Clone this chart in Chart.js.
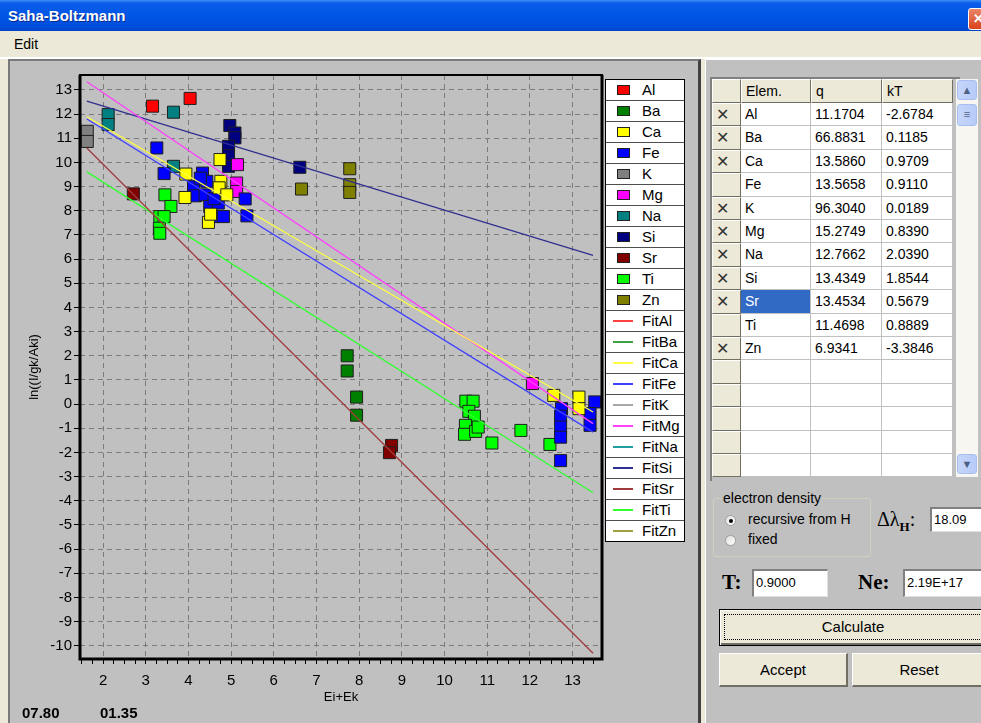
<!DOCTYPE html>
<html>
<head>
<meta charset="utf-8">
<script src="https://cdn.jsdelivr.net/npm/chart.js@4.4.0/dist/chart.umd.min.js"></script>
<style>
  body { margin:0; width:981px; height:723px; overflow:hidden; position:relative; background:#ece9d8; font-family:"Liberation Sans", Arial, sans-serif; }
  .abs { position:absolute; }
  #titlebar { left:0; top:0; width:981px; height:31px; background:linear-gradient(#3d8ff7 0%, #0a5de8 10%, #0056e6 50%, #004fdc 85%, #0044c8 100%); }
  #titlebar span { position:absolute; left:8px; top:7px; color:#fff; font-weight:bold; font-size:15px; text-shadow:1px 1px 0 #0a2a8a; }
  #closebtn { left:968px; top:8px; width:22px; height:20px; background:linear-gradient(#e98768,#d9421c); border:1px solid #fff; border-radius:3px; color:#fff; font-size:13px; font-weight:bold; line-height:20px; text-indent:4px; }
  #menubar { left:0; top:31px; width:981px; height:26px; background:#ece9d8; border-bottom:2px solid #fff; }
  #menubar span { position:absolute; left:14px; top:5px; font-size:14px; }
  #leftpanel { left:8px; top:59px; width:693px; height:664px; background:#c0c0c0; border-top:2px solid #7a7a7a; border-left:2px solid #7a7a7a; border-right:3px solid #404040; box-sizing:border-box; }
  #rightpanel { left:705px; top:59px; width:276px; height:664px; background:#c0c0c0; border-top:1px solid #fff; border-left:1px solid #fff; box-sizing:border-box; }
  #chartbox { left:10px; top:62px; width:690px; height:661px; }
  #legend { left:605px; top:79px; width:80px; border:1px solid #000; background:#fff; box-sizing:border-box; }
  .lrow { position:relative; height:20px; border-bottom:1px solid #505050; font-size:15px; }
  .lrow:last-child { border-bottom:none; }
  .lrow .mk { position:absolute; left:11px; top:5px; width:11px; height:8px; border:1px solid #222; }
  .lrow .ln { position:absolute; left:7px; top:9px; width:20px; height:2px; }
  .lrow .tx { position:absolute; left:36px; top:1px; }
  .foot { top:704px; font-size:15px; font-weight:bold; }
  #grid { left:710px; top:77px; width:248px; height:402px; border-top:2px solid #808080; border-left:2px solid #808080; background:#c0c0c0; }
  .cell { position:absolute; box-sizing:border-box; font-size:14px; padding-left:4px; white-space:nowrap; overflow:hidden; }
  .hdr { background:#ece9d8; border-top:1px solid #fff; border-left:1px solid #fff; border-right:1px solid #716f64; border-bottom:1px solid #716f64; }
  .dat { background:#fff; border-right:1px solid #c0c0c0; border-bottom:1px solid #c0c0c0; }
  #sbar { left:956px; top:79px; width:22px; height:398px; background:#f7f6f1; }
  .sbtn { position:absolute; left:1px; width:20px; height:20px; border-radius:3px; background:linear-gradient(90deg,#c6d6fc,#b7cbf8); border:1px solid #a8bef0; box-sizing:border-box; color:#4d6185; font-size:11px; text-align:center; line-height:18px; }
  #group { left:713px; top:498px; width:158px; height:59px; border:1px solid #d0d0bf; border-radius:3px; box-sizing:border-box; }
  #group .leg { position:absolute; left:8px; top:-9px; background:#c0c0c0; font-size:14px; padding:0 1px; }
  .radio { position:absolute; width:11px; height:11px; border-radius:50%; background:linear-gradient(135deg,#e0e0dc,#fff); border:1px solid #a0a0a0; box-sizing:border-box; }
  .lbl { position:absolute; font-size:14px; }
  .inp { position:absolute; background:#fff; border-top:2px solid #808080; border-left:2px solid #808080; border-bottom:1px solid #e0e0e0; border-right:1px solid #e0e0e0; box-sizing:border-box; font-size:13px; padding-left:2px; }
  .serif { position:absolute; font-family:"Liberation Serif", "DejaVu Serif", serif; font-weight:bold; font-size:21px; }
  .btn { position:absolute; background:#ece9d8; border-top:1px solid #fff; border-left:1px solid #fff; border-right:2px solid #716f64; border-bottom:2px solid #716f64; box-sizing:border-box; font-size:15px; text-align:center; }
</style>
</head>
<body>
<div id="titlebar" class="abs"><span>Saha-Boltzmann</span></div>
<div id="closebtn" class="abs">✕</div>
<div id="menubar" class="abs"><span>Edit</span></div>
<div id="leftpanel" class="abs"></div>
<div id="rightpanel" class="abs"></div>
<div id="chartbox" class="abs"><canvas id="sbChart"></canvas></div>
<div id="legend" class="abs"></div>
<div class="abs foot" style="left:22px;">07.80</div>
<div class="abs foot" style="left:100px;">01.35</div>

<div id="grid" class="abs"></div>
<div id="sbar" class="abs">
  <div class="sbtn" style="top:1px;">&#9650;</div>
  <div class="sbtn" style="top:25px;height:22px;">&#8801;</div>
  <div class="sbtn" style="top:375px;">&#9660;</div>
</div>

<div id="group" class="abs">
  <div class="leg">electron density</div>
</div>
<div class="radio" style="left:725px;top:515px;"><div style="position:absolute;left:3px;top:3px;width:4px;height:4px;border-radius:50%;background:#000;"></div></div>
<div class="lbl" style="left:748px;top:511px;">recursive from H</div>
<div class="radio" style="left:725px;top:535px;"></div>
<div class="lbl" style="left:748px;top:531px;">fixed</div>
<div class="abs" style="left:877px;top:508px;font-family:'Liberation Serif',serif;font-size:20px;">&Delta;&lambda;<sub style="font-weight:bold;font-size:13px;vertical-align:-5px;">H</sub>:</div>
<div class="inp" style="left:930px;top:507px;width:55px;height:25px;line-height:21px;">18.09</div>

<div class="serif" style="left:722px;top:570px;">T:</div>
<div class="inp" style="left:752px;top:569px;width:76px;height:28px;line-height:24px;">0.9000</div>
<div class="serif" style="left:858px;top:570px;">Ne:</div>
<div class="inp" style="left:903px;top:569px;width:82px;height:28px;line-height:24px;">2.19E+17</div>

<div class="btn" style="left:719px;top:609px;width:268px;height:37px;border:1px solid #000;box-shadow:inset 1px 1px 0 #fff, inset -2px -2px 0 #716f64;line-height:33px;">
  <div style="position:absolute;left:4px;top:4px;right:4px;bottom:5px;border:1px dotted #000;"></div>Calculate</div>
<div class="btn" style="left:719px;top:653px;width:129px;height:34px;line-height:31px;">Accept</div>
<div class="btn" style="left:852px;top:653px;width:135px;height:34px;line-height:31px;">Reset</div>

<script>
// ---- data ----
const elements = ["Al", "Ba", "Ca", "Fe", "K", "Mg", "Na", "Si", "Sr", "Ti", "Zn"];
const markerColors = ["#ff0000", "#008000", "#ffff00", "#0000ff", "#808080", "#ff00ff", "#008080", "#000080", "#800000", "#00ff00", "#808000"];
const fitColors = ["#ff4040", "#40a040", "#ffff40", "#4040ff", "#a8a8a8", "#ff40ff", "#20a0a0", "#303090", "#a03c3c", "#30ff30", "#a0a040"];

// E (Ei+Ek) and ln value for each element
const alPts = [[3.16, 12.33], [4.04, 12.65]];
const baPts = [[7.72, 2.0], [7.72, 1.37], [7.94, 0.29], [7.94, -0.46]];
const caPts = [[3.94, 9.52], [3.92, 8.55], [4.47, 7.52], [4.52, 7.86], [4.74, 10.12], [4.76, 9.22], [4.72, 8.95], [4.9, 8.66], [12.56, 0.36], [13.15, 0.29], [13.15, -0.19]];
const fePts = [[3.26, 10.6], [3.43, 9.54], [4.33, 9.56], [4.12, 9.0], [4.16, 8.62], [4.43, 9.22], [4.39, 8.66], [4.5, 8.18], [4.7, 8.32], [4.58, 7.76], [4.82, 7.76], [5.33, 8.49], [5.37, 7.79], [4.28, 9.35], [4.6, 8.5], [12.74, -0.19], [12.72, -0.5], [12.72, -0.95], [12.72, -1.37], [12.72, -2.34], [13.52, 0.09], [13.41, -0.39], [13.41, -0.88]];
const kPts = [[1.63, 11.29], [1.63, 10.87]];
const mgPts = [[5.15, 9.91], [5.13, 9.15], [5.13, 8.8], [12.06, 0.85]];
const naPts = [[2.12, 11.98], [2.12, 11.57], [3.65, 12.08], [3.65, 9.84]];
const siPts = [[4.97, 11.53], [5.09, 11.22], [5.09, 11.02], [4.94, 10.67], [4.94, 10.28], [4.94, 9.84], [6.61, 9.8]];
const srPts = [[2.71, 8.7], [8.76, -1.71], [8.71, -2.01]];
const tiPts = [[3.45, 8.66], [3.59, 8.18], [3.33, 7.76], [3.43, 7.76], [3.32, 7.28], [3.33, 7.07], [10.5, 0.12], [10.67, 0.12], [10.57, -0.3], [10.7, -0.5], [10.49, -0.88], [10.47, -1.25], [10.73, -1.13], [10.79, -0.95], [11.11, -1.61], [11.79, -1.09], [12.47, -1.67]];
const znPts = [[6.65, 8.9], [7.78, 9.74], [7.78, 9.08], [7.78, 8.76]];
const points = [alPts, baPts, caPts, fePts, kPts, mgPts, naPts, siPts, srPts, tiPts, znPts];

// fit lines: values at fitE ends (empty = not drawn)
const fitE = [1.62, 13.48];
const fitAl = [];
const fitBa = [];
const fitCa = [11.89, -0.33];
const fitFe = [11.8, -1.16];
const fitK = [];
const fitMg = [13.34, -0.81];
const fitNa = [];
const fitSi = [12.54, 6.15];
const fitSr = [10.6, -10.31];
const fitTi = [9.61, -3.67];
const fitZn = [];
const fits = [fitAl, fitBa, fitCa, fitFe, fitK, fitMg, fitNa, fitSi, fitSr, fitTi, fitZn];

const xRange = [1.46, 13.69];
const yRange = [-10.55, 13.62];

// table
const tblQ = ["11.1704", "66.8831", "13.5860", "13.5658", "96.3040", "15.2749", "12.7662", "13.4349", "13.4534", "11.4698", "6.9341"];
const tblKT = ["-2.6784", "0.1185", "0.9709", "0.9110", "0.0189", "0.8390", "2.0390", "1.8544", "0.5679", "0.8889", "-3.3846"];
const tblX = [1, 1, 1, 0, 1, 1, 1, 1, 1, 0, 1];
const tblHeads = ["", "Elem.", "q", "kT"];

// ---- chart ----
const FONT = "'Liberation Sans', Arial, sans-serif";
const isInt = v => Math.abs(v - Math.round(v)) < 1e-6;
const isQuarter = v => Math.abs(v * 4 - Math.round(v * 4)) < 1e-6;
const inX = v => v >= xRange[0] && v <= xRange[1];

const datasets = [];
elements.forEach((el, i) => {
  datasets.push({
    type: "scatter",
    label: el,
    data: points[i].map(p => ({ x: p[0], y: p[1] })),
    pointStyle: "rect",
    pointRadius: 8.5,
    pointHoverRadius: 8.5,
    pointBackgroundColor: markerColors[i],
    pointBorderColor: "#1e1e1e",
    pointBorderWidth: 1,
    order: 1,
  });
});
elements.forEach((el, i) => {
  datasets.push({
    type: "line",
    label: "Fit" + el,
    data: fits[i].map((v, j) => ({ x: fitE[j], y: v })),
    borderColor: fitColors[i],
    borderWidth: 1.3,
    pointRadius: 0,
    fill: false,
    order: 0,
  });
});

const framePlugin = {
  id: "frame",
  afterDraw(chart) {
    const { ctx, chartArea: a } = chart;
    ctx.save();
    ctx.strokeStyle = "#000";
    ctx.lineWidth = 2;
    ctx.strokeRect(a.left, a.top, a.right - a.left, a.bottom - a.top);
    ctx.lineWidth = 3;
    ctx.beginPath();
    ctx.moveTo(a.left, a.top);
    ctx.lineTo(a.left, a.bottom);
    ctx.lineTo(a.right, a.bottom);
    ctx.lineTo(a.right, a.top);
    ctx.stroke();
    ctx.restore();
  },
};

new Chart(document.getElementById("sbChart"), {
  type: "scatter",
  data: { datasets },
  options: {
    responsive: true,
    maintainAspectRatio: false,
    animation: false,
    layout: { padding: { top: 13, right: 98, bottom: 0, left: 0 } },
    plugins: { legend: { display: false }, tooltip: { enabled: false } },
    scales: {
      x: {
        type: "linear",
        min: xRange[0],
        max: xRange[1],
        afterFit: s => { s.height = 64; },
        ticks: {
          stepSize: 0.25,
          includeBounds: false,
          autoSkip: false,
          maxRotation: 0,
          color: "#000",
          padding: 8,
          font: { family: FONT, size: 15 },
          callback: v => (isInt(v) ? v : ""),
        },
        grid: {
          color: c => (isInt(c.tick.value) && inX(c.tick.value) ? "#7c7c7c" : "transparent"),
          tickColor: c => (isQuarter(c.tick.value) && inX(c.tick.value) ? "#000" : "transparent"),
          tickLength: 5,
          lineWidth: 1,
        },
        border: { display: false, dash: [5, 4] },
        title: { display: true, text: "Ei+Ek", color: "#000", font: { family: FONT, size: 13 }, padding: { top: 0, bottom: 18 } },
      },
      y: {
        min: yRange[0],
        max: yRange[1],
        afterFit: s => { s.width = 70; },
        ticks: {
          stepSize: 1,
          includeBounds: false,
          color: "#000",
          padding: 2,
          font: { family: FONT, size: 15 },
          callback: v => (isInt(v) ? v : ""),
        },
        grid: {
          color: c => (isInt(c.tick.value) ? "#7c7c7c" : "transparent"),
          tickColor: c => (isInt(c.tick.value) ? "#000" : "transparent"),
          tickLength: 6,
          lineWidth: 1,
        },
        border: { display: false, dash: [5, 4] },
        title: { display: true, text: "ln((I/gk/Aki)", color: "#000", font: { family: FONT, size: 13 }, padding: { top: 17, bottom: 0 } },
      },
    },
  },
  plugins: [framePlugin],
});

// ---- legend (html) ----
const legendEl = document.getElementById("legend");
elements.forEach((el, i) => {
  legendEl.insertAdjacentHTML("beforeend",
    `<div class="lrow"><div class="mk" style="background:${markerColors[i]}"></div><div class="tx">${el}</div></div>`);
});
elements.forEach((el, i) => {
  legendEl.insertAdjacentHTML("beforeend",
    `<div class="lrow"><div class="ln" style="background:${fitColors[i]}"></div><div class="tx">Fit${el}</div></div>`);
});

// ---- table ----
const gridEl = document.getElementById("grid");
const colX = [0, 29, 99, 170];
const colW = [29, 70, 71, 71];
const rowH = 23.4;
const headH = 24;
function addCell(x, y, w, h, cls, text, extra) {
  gridEl.insertAdjacentHTML("beforeend",
    `<div class="cell ${cls}" style="left:${x}px;top:${y}px;width:${w}px;height:${h}px;line-height:${h - 1}px;${extra || ""}">${text}</div>`);
}
tblHeads.forEach((t, c) => addCell(colX[c], 0, colW[c], headH, "hdr", t));
for (let r = 0; r < 16; r++) {
  const y = headH + r * rowH;
  const has = r < elements.length;
  addCell(colX[0], y, colW[0], rowH, "hdr", has && tblX[r] ? "<span style='font-weight:300;font-size:16px;color:#333'>&#x2715;</span>" : "", "padding-left:3px;");
  const sel = has && elements[r] === "Sr";
  addCell(colX[1], y, colW[1], rowH, "dat", has ? elements[r] : "", sel ? "background:#316ac5;color:#fff;" : "");
  addCell(colX[2], y, colW[2], rowH, "dat", has ? tblQ[r] : "");
  addCell(colX[3], y, colW[3], rowH, "dat", has ? tblKT[r] : "");
}
</script>
</body>
</html>
